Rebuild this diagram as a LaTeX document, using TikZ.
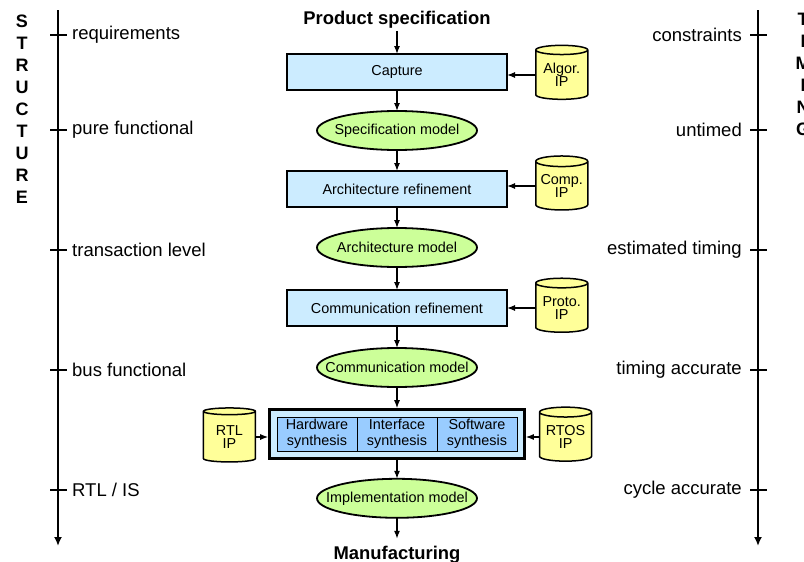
\documentclass[tikz,border=0pt]{standalone}
\usepackage{fontspec}
\setmainfont{Liberation Sans}
\usetikzlibrary{positioning,shapes.geometric,arrows.meta,fit,backgrounds}

\definecolor{stepblue}{HTML}{CCECFF}
\definecolor{cellblue}{HTML}{99CCFF}
\definecolor{modelgreen}{HTML}{CCFF99}
\definecolor{ipyellow}{HTML}{FFFF99}

% model text may run up to the ellipse border
\newcommand{\modeltext}[1]{\makebox[0pt]{#1}}

\begin{document}
\begin{tikzpicture}[x=1pt, y=-1pt,
    % refinement steps, models and IP libraries
    stepbox/.style={rectangle, draw=black, fill=stepblue, line width=1.8pt,
                minimum width=220pt, minimum height=36pt, inner sep=0pt, outer sep=0pt,
                align=center, font=\fontsize{14.4}{16.5}\selectfont},
    model/.style={ellipse, draw=black, fill=modelgreen, line width=1.8pt,
                minimum width=160pt, minimum height=39pt, inner sep=0pt, outer sep=0pt,
                font=\fontsize{14.4}{16.5}\selectfont},
    ip/.style={cylinder, shape border rotate=90, aspect=0.25, draw=black,
                fill=ipyellow, line width=1.5pt, minimum width=52pt, minimum height=54pt,
                inner sep=0pt, align=center, font=\fontsize{14.4}{13.5}\selectfont},
    cell/.style={rectangle, draw=black, fill=cellblue, line width=0.8pt,
                minimum width=80pt, minimum height=34pt, inner sep=0pt, outer sep=0pt,
                align=center, font=\fontsize{14.4}{16.5}\selectfont},
    heading/.style={font=\fontsize{18.4}{22}\selectfont\bfseries, inner sep=2pt},
    lbl/.style={font=\fontsize{18.5}{22}\selectfont, inner sep=0pt},
    vert/.style={font=\fontsize{18}{22}\selectfont\bfseries, align=center, inner sep=0pt},
    % arrows
    arrow/.style={-{Latex[length=8pt,width=6pt]}, line width=1.2pt},
    axis/.style={-{Latex[length=9pt,width=8pt]}, line width=2.4pt},
    axtick/.style={line width=2.4pt}
]
\useasboundingbox (0,0) rectangle (804,562);

% Design flow
\node[heading] (prodspec) at (397,20) {Product specification};
\node[stepbox] (capture) at (397,72) {Capture};
\node[model, below=21pt of capture] (specmodel) {\modeltext{Specification model}};
\node[stepbox, below=21pt of specmodel] (archref) {Architecture refinement};
\node[model, below=21pt of archref] (archmodel) {\modeltext{Architecture model}};
\node[stepbox, below=23pt of archmodel] (commref) {Communication refinement};
\node[model, below=22pt of commref] (commmodel) {\modeltext{Communication model}};

% Synthesis
\node[cell, below=30pt of commmodel] (ifsyn) {Interface\\synthesis};
\node[cell, left=0pt of ifsyn] (hwsyn) {Hardware\\synthesis};
\node[cell, right=0pt of ifsyn] (swsyn) {Software\\synthesis};
\begin{scope}[on background layer]
    \node[draw=black, fill=stepblue, line width=2.6pt, inner sep=7.5pt,
          fit=(hwsyn)(swsyn)] (synth) {};
\end{scope}

\node[model, below=19pt of synth] (implmodel) {\modeltext{Implementation model}};
\node[heading, below=26pt of implmodel] (manuf) {Manufacturing};

% IP libraries
\node[ip, right=28pt of capture, yshift=-3pt] (algorip) {Algor.\\IP};
\node[ip, right=28pt of archref, yshift=3pt] (compip) {Comp.\\IP};
\node[ip, right=28pt of commref] (protoip) {Proto.\\IP};
\node[ip, left=12pt of synth, yshift=-3pt] (rtlip) {RTL\\IP};
\node[ip, right=13pt of synth, yshift=-3pt] (rtosip) {RTOS\\IP};

% Flow arrows
\draw[arrow] (prodspec) -- (capture);
\draw[arrow] (capture) -- (specmodel);
\draw[arrow] (specmodel) -- (archref);
\draw[arrow] (archref) -- (archmodel);
\draw[arrow] (archmodel) -- (commref);
\draw[arrow] (commref) -- (commmodel);
\draw[arrow] (commmodel) -- (synth);
\draw[arrow] (synth) -- (implmodel);
\draw[arrow, shorten >=5pt] (implmodel) -- (manuf);

\draw[arrow] (algorip.west) -- (algorip.west -| capture.east);
\draw[arrow] (compip.west) -- (compip.west -| archref.east);
\draw[arrow] (protoip.west) -- (protoip.west -| commref.east);
\draw[arrow] (rtlip.east) -- (rtlip.east -| synth.west);
\draw[arrow] (rtosip.west) -- (rtosip.west -| synth.east);

% Abstraction axes
\coordinate (ltop) at (58,10);
\coordinate (lbot) at (58,546);
\coordinate (rtop) at (758,10);
\coordinate (rbot) at (758,546);
\draw[axis] (ltop) -- (lbot);
\draw[axis] (rtop) -- (rbot);

\foreach \y/\lt/\rt [count=\i] in {35/requirements/constraints,
        130/pure functional/untimed, 250/transaction level/estimated timing,
        370/bus functional/timing accurate, 490/RTL \slash\ IS/cycle accurate} {
    \draw[axtick] (50,\y) -- (67,\y);
    \draw[axtick] (750,\y) -- (767,\y);
    \node[lbl, anchor=west] (struct\i) at (72,\y) {\lt};
    \node[lbl, anchor=east] (timing\i) at (742,\y) {\rt};
}

\node[vert] (structure) at (22,109) {S\\T\\R\\U\\C\\T\\U\\R\\E};
\node[vert] (timing) at (803,74) {T\\I\\M\\I\\N\\G};

\end{tikzpicture}
\end{document}
